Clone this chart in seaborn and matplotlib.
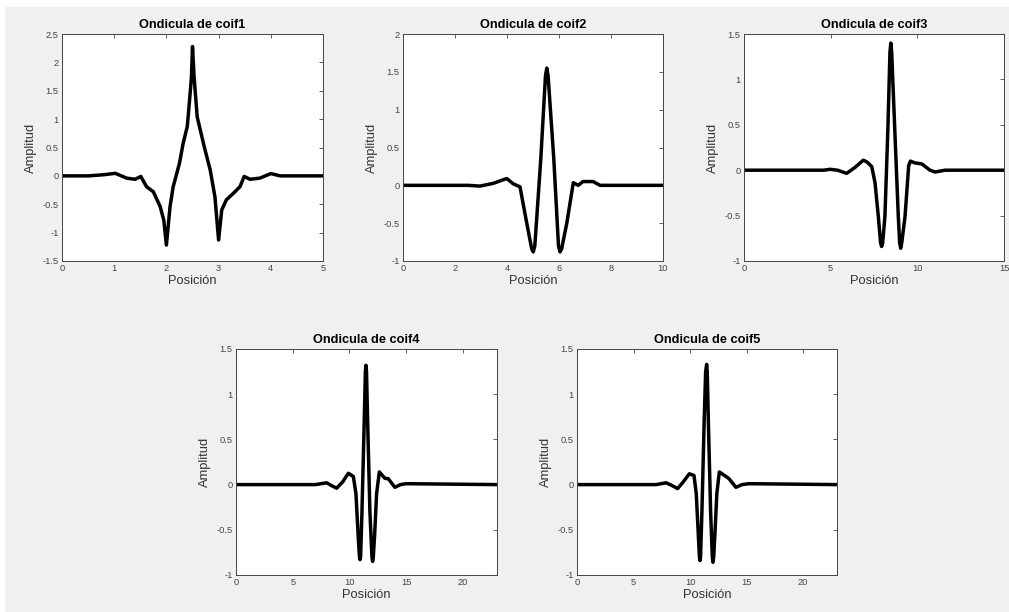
import matplotlib
matplotlib.use("Agg")
import matplotlib.pyplot as plt
import seaborn as sns
import pandas as pd
from matplotlib.patches import Rectangle

sns.set_theme(style="white")
plt.rcParams['font.family'] = ['Liberation Sans', 'DejaVu Sans']

# values
coif1_x = [0, 0.5, 0.8, 1.02, 1.24, 1.40, 1.51, 1.62, 1.75, 1.88, 1.95, 2.0,
           2.07, 2.13, 2.25, 2.32, 2.40, 2.45, 2.48, 2.50, 2.53, 2.59, 2.71,
           2.84, 2.93, 3.0, 3.06, 3.15, 3.28, 3.41, 3.49, 3.60, 3.79,
           4.0, 4.18, 5.0]
coif1_y = [0, 0, 0.02, 0.045, -0.04, -0.06, -0.01, -0.19, -0.28, -0.54, -0.78, -1.22,
           -0.54, -0.19, 0.22, 0.57, 0.87, 1.40, 1.75, 2.28, 1.75, 1.04, 0.57,
           0.10, -0.37, -1.13, -0.6, -0.42, -0.31, -0.19, -0.01, -0.06, -0.04,
           0.04, 0.0, 0.0]

coif2_x = [0, 2.5, 2.96, 3.47, 3.99, 4.24, 4.5, 4.76, 4.95, 5.01, 5.07, 5.3,
           5.48, 5.53, 5.58, 5.8, 5.98, 6.04, 6.1, 6.30, 6.55, 6.74, 6.92, 7.31,
           7.58, 7.96, 10.0]
coif2_y = [0, 0, -0.01, 0.026, 0.09, 0.02, -0.02, -0.5, -0.84, -0.88, -0.8, 0.35,
           1.45, 1.55, 1.45, 0.35, -0.8, -0.88, -0.84, -0.5, 0.035, 0.0, 0.05, 0.05,
           0.0, 0.0, 0]

coif3_x = [0, 4.6, 4.96, 5.4, 5.92, 6.4, 6.88, 7.1, 7.37, 7.56, 7.75, 7.88, 7.94,
           8.0, 8.13, 8.3, 8.42, 8.47, 8.52, 8.70, 8.9, 8.98, 9.04, 9.1, 9.29,
           9.5, 9.6, 9.87, 10.25, 10.73, 11.02, 11.6, 15.0]
coif3_y = [0, 0, 0.01, 0.0, -0.035, 0.03, 0.11, 0.09, 0.04, -0.14, -0.51, -0.8, -0.84,
           -0.8, -0.51, 0.45, 1.3, 1.40, 1.3, 0.44, -0.5, -0.8, -0.86, -0.8, -0.51,
           0.05, 0.1, 0.08, 0.07, 0.0, -0.02, 0.0, 0]

coif4_x = [0, 7.0, 7.99, 8.4, 8.87, 9.4, 9.9, 10.34, 10.57, 10.78, 10.88, 10.93,
           10.98, 11.1, 11.3, 11.4, 11.45, 11.5, 11.6, 11.8, 11.98, 12.04, 12.1,
           12.22, 12.39, 12.63, 13.12, 13.42, 14.0, 14.5, 15.0, 23.0]
coif4_y = [0, 0, 0.02, -0.01, -0.04, 0.03, 0.125, 0.09, -0.1, -0.6, -0.8, -0.83,
           -0.8, -0.3, 0.7, 1.25, 1.32, 1.25, 0.7, -0.3, -0.8, -0.85, -0.8,
           -0.55, -0.1, 0.14, 0.07, 0.065, -0.03, 0.0, 0.01, 0]

coif5_x = [0, 7.0, 7.88, 8.4, 8.9, 9.4, 9.94, 10.35, 10.55, 10.75, 10.83, 10.88,
           10.93, 11.05, 11.25, 11.38, 11.47, 11.52, 11.62, 11.82, 11.97, 12.03, 12.09,
           12.2, 12.37, 12.59, 13.18, 13.45, 14.06, 14.6, 15.2, 23.0]
coif5_y = [0, 0, 0.02, -0.01, -0.044, 0.03, 0.12, 0.1, -0.1, -0.6, -0.8, -0.84,
           -0.8, -0.3, 0.7, 1.25, 1.33, 1.25, 0.7, -0.3, -0.8, -0.86, -0.8,
           -0.55, -0.1, 0.14, 0.09, 0.065, -0.03, 0.0, 0.01, 0]

names = ["coif1", "coif2", "coif3", "coif4", "coif5"]
xs = [coif1_x, coif2_x, coif3_x, coif4_x, coif5_x]
ys = [coif1_y, coif2_y, coif3_y, coif4_y, coif5_y]
xlims = [(0, 5), (0, 10), (0, 15), (0, 23), (0, 23)]
ylims = [(-1.5, 2.5), (-1, 2), (-1, 1.5), (-1, 1.5), (-1, 1.5)]
xticks = [[0, 1, 2, 3, 4, 5], [0, 2, 4, 6, 8, 10], [0, 5, 10, 15],
          [0, 5, 10, 15, 20], [0, 5, 10, 15, 20]]
yticks = [[-1.5, -1, -0.5, 0, 0.5, 1, 1.5, 2, 2.5],
          [-1, -0.5, 0, 0.5, 1, 1.5, 2],
          [-1, -0.5, 0, 0.5, 1, 1.5],
          [-1, -0.5, 0, 0.5, 1, 1.5],
          [-1, -0.5, 0, 0.5, 1, 1.5]]

W, H = 1009, 612
# axes boxes in pixels: left, top, width, height
boxes = [(62, 34, 261, 227), (403, 34, 260, 227), (744, 34, 260, 227),
         (236, 349, 261, 226), (577, 349, 260, 226)]

fig = plt.figure(figsize=(W / 100, H / 100), dpi=100, facecolor="white")
fig.patches.append(Rectangle((5 / W, 0), 1, (H - 7) / H, transform=fig.transFigure,
                             facecolor="#f0f0f0", edgecolor="none", zorder=-10))

for i in range(5):
    l, t, w, h = boxes[i]
    ax = fig.add_axes([l / W, (H - t - h) / H, w / W, h / H])
    df = pd.DataFrame({"Posición": xs[i], "Amplitud": ys[i]})
    sns.lineplot(data=df, x="Posición", y="Amplitud", ax=ax, color="black",
                 linewidth=2.5, sort=False)
    ax.set_facecolor("white")
    ax.set_xlim(*xlims[i])
    ax.set_ylim(*ylims[i])
    ax.set_xticks(xticks[i])
    ax.set_xticklabels(["%g" % v for v in xticks[i]])
    ax.set_yticks(yticks[i])
    ax.set_yticklabels(["%g" % v for v in yticks[i]])
    ax.tick_params(direction="in", length=3, width=0.6, labelsize=6.7,
                   labelcolor="#444444", color="#444444", top=True, right=True,
                   pad=2.5)
    for sp in ax.spines.values():
        sp.set_color("#444444")
        sp.set_linewidth(0.7)
    ax.set_xlabel("Posición", fontsize=9.3, color="#333333", labelpad=1)
    ax.set_ylabel("Amplitud", fontsize=9.3, color="#333333", labelpad=4)
    ax.set_title("Ondicula de " + names[i], fontsize=9.2, fontweight="bold",
                 color="black", pad=4)

fig.savefig("out.png", dpi=100, facecolor=fig.get_facecolor())
